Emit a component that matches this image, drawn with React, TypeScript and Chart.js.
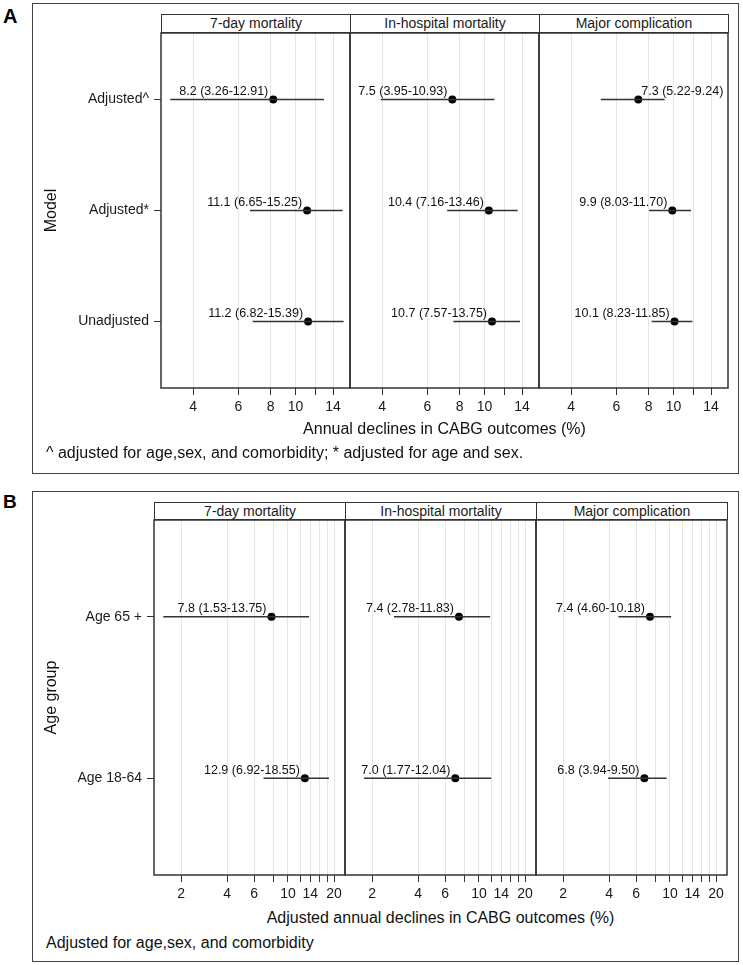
import React, { useEffect, useRef } from 'react';
import { Chart, registerables } from 'chart.js';

Chart.register(...registerables);

const FONT = "'Liberation Sans', Arial, Helvetica, sans-serif";

// ---------- shared ----------
const facetTitles = ['7-day mortality', 'In-hospital mortality', 'Major complication'];

// ---------- Panel A : model ----------
const modelCategories = ['Adjusted^', 'Adjusted*', 'Unadjusted'];
const aSevenDayEst = [8.2, 11.1, 11.2];
const aSevenDayLow = [3.26, 6.65, 6.82];
const aSevenDayHigh = [12.91, 15.25, 15.39];
const aInHospEst = [7.5, 10.4, 10.7];
const aInHospLow = [3.95, 7.16, 7.57];
const aInHospHigh = [10.93, 13.46, 13.75];
const aMajorEst = [7.3, 9.9, 10.1];
const aMajorLow = [5.22, 8.03, 8.23];
const aMajorHigh = [9.24, 11.70, 11.85];
const aTickValues = [4, 6, 8, 10, 12, 14];
const aTickLabels = ['4', '6', '8', '10', '', '14'];
const aAxisRange = [3.0, 16.3];
const aAxisTitle = 'Annual declines in CABG outcomes (%)';
const aFootnote = '^ adjusted for age,sex, and comorbidity; * adjusted for age and sex.';

// ---------- Panel B : age group ----------
const ageCategories = ['Age 65 +', 'Age 18-64'];
const bSevenDayEst = [7.8, 12.9];
const bSevenDayLow = [1.53, 6.92];
const bSevenDayHigh = [13.75, 18.55];
const bInHospEst = [7.4, 7.0];
const bInHospLow = [2.78, 1.77];
const bInHospHigh = [11.83, 12.04];
const bMajorEst = [7.4, 6.8];
const bMajorLow = [4.60, 3.94];
const bMajorHigh = [10.18, 9.50];
const bTickValues = [2, 4, 6, 8, 10, 12, 14, 16, 18, 20];
const bTickLabels = ['2', '4', '6', '', '10', '', '14', '', '', '20'];
const bAxisRange = [1.33, 23.6];
const bAxisTitle = 'Adjusted annual declines in CABG outcomes (%)';
const bFootnote = 'Adjusted for age,sex, and comorbidity';

type Side = 'before' | 'after';

type FacetProps = {
  categories: string[];
  est: number[];
  low: number[];
  high: number[];
  labelSide: Side[];
  range: number[];
  tickValues: number[];
  tickLabels: string[];
  showY: boolean;
  yTitle: string;
  left: number;
  top: number;
  width: number;
  height: number;
  padLeft: number;
  yAxisWidth: number;
};

const fmt = (e: number, l: number, h: number) => `${e.toFixed(1)} (${l.toFixed(2)}-${h.toFixed(2)})`;

function Facet(p: FacetProps) {
  const ref = useRef<HTMLCanvasElement | null>(null);
  useEffect(() => {
    if (!ref.current) return;
    const n = p.categories.length;
    const yOf = (i: number) => n - i;
    const datasets: any[] = [];
    p.categories.forEach((_, i) => {
      datasets.push({
        data: [
          { x: p.low[i], y: yOf(i) },
          { x: p.high[i], y: yOf(i) },
        ],
        showLine: true,
        borderColor: '#333333',
        borderWidth: 1.5,
        pointRadius: 0,
        pointHoverRadius: 0,
      });
    });
    datasets.push({
      data: p.est.map((v, i) => ({ x: v, y: yOf(i) })),
      showLine: false,
      pointRadius: 4,
      pointHoverRadius: 4,
      backgroundColor: '#000000',
      borderColor: '#000000',
      borderWidth: 0,
    });

    const panelBorder = {
      id: 'panelBorder',
      afterDatasetsDraw(chart: any) {
        const { ctx, chartArea: a } = chart;
        ctx.save();
        ctx.strokeStyle = '#333333';
        ctx.lineWidth = 1.5;
        ctx.strokeRect(a.left, a.top, a.right - a.left, a.bottom - a.top);
        ctx.restore();
      },
    };
    const estLabels = {
      id: 'estLabels',
      afterDatasetsDraw(chart: any) {
        const { ctx } = chart;
        const xs = chart.scales.x;
        const ys = chart.scales.y;
        ctx.save();
        ctx.font = `12.5px ${FONT}`;
        ctx.fillStyle = '#111111';
        ctx.textBaseline = 'alphabetic';
        p.est.forEach((e, i) => {
          const px = xs.getPixelForValue(e);
          const py = ys.getPixelForValue(yOf(i));
          const txt = fmt(e, p.low[i], p.high[i]);
          if (p.labelSide[i] === 'after') {
            ctx.textAlign = 'left';
            ctx.fillText(txt, px + 3, py - 4.5);
          } else {
            ctx.textAlign = 'right';
            ctx.fillText(txt, px - 5, py - 4.5);
          }
        });
        ctx.restore();
      },
    };

    const chart = new Chart(ref.current, {
      type: 'scatter',
      data: { datasets },
      options: {
        animation: false,
        responsive: false,
        events: [],
        layout: { padding: { left: p.padLeft, top: 4, right: 4, bottom: 0 } },
        plugins: { legend: { display: false }, tooltip: { enabled: false } },
        scales: {
          x: {
            type: 'logarithmic',
            min: p.range[0],
            max: p.range[1],
            afterBuildTicks: (s: any) => {
              s.ticks = p.tickValues.map((v) => ({ value: v }));
            },
            afterFit: (s: any) => {
              s.height = 32;
              s.paddingLeft = 0;
              s.paddingRight = 0;
            },
            ticks: {
              autoSkip: false,
              maxRotation: 0,
              minRotation: 0,
              padding: 4,
              font: { family: FONT, size: 14 },
              color: '#1a1a1a',
              callback: (_v: any, idx: number) => p.tickLabels[idx] ?? '',
            },
            grid: { color: '#e6e6e6', lineWidth: 1, tickColor: '#333333', tickLength: 7, tickWidth: 1 },
            border: { display: false },
          },
          y: {
            type: 'linear',
            min: 0.4,
            max: n + 0.6,
            display: p.showY,
            afterBuildTicks: (s: any) => {
              s.ticks = p.categories.map((_, i) => ({ value: yOf(i) }));
            },
            afterFit: (s: any) => {
              s.width = p.showY ? p.yAxisWidth : 0;
              s.paddingTop = 0;
              s.paddingBottom = 0;
            },
            ticks: {
              padding: 5,
              font: { family: FONT, size: 14 },
              color: '#1a1a1a',
              callback: (v: any) => p.categories[n - Number(v)] ?? '',
            },
            grid: { drawOnChartArea: false, tickColor: '#333333', tickLength: 7, tickWidth: 1 },
            border: { display: false },
            title: {
              display: true,
              text: p.yTitle,
              font: { family: FONT, size: 16 },
              color: '#111111',
              padding: { top: 6, bottom: 0 },
            },
          },
        },
      } as any,
      plugins: [panelBorder, estLabels],
    });
    return () => chart.destroy();
  }, []);
  return (
    <canvas
      ref={ref}
      width={p.width}
      height={p.height}
      style={{ position: 'absolute', left: p.left, top: p.top, width: p.width, height: p.height }}
    />
  );
}

type PanelProps = {
  letter: string;
  letterSize: number;
  letterTop: number;
  frameTop: number;
  frameBottom: number;
  stripTop: number;
  plotTop: number;
  plotBottom: number;
  facetLeft: number;
  facetW: number;
  categories: string[];
  yTitle: string;
  facets: { est: number[]; low: number[]; high: number[]; side: Side[] }[];
  range: number[];
  tickValues: number[];
  tickLabels: string[];
  axisTitle: string;
  axisTitleTop: number;
  footnote: string;
  footTop: number;
};

function Panel(p: PanelProps) {
  const canvasLeft0 = 36;
  const plotH = p.plotBottom - p.plotTop;
  return (
    <>
      <div
        style={{
          position: 'absolute',
          left: 32,
          top: p.frameTop,
          width: 739 - 32,
          height: p.frameBottom - p.frameTop,
          boxSizing: 'border-box',
          border: '1.5px solid #444',
        }}
      />
      <div
        style={{
          position: 'absolute',
          left: 3,
          top: p.letterTop,
          fontFamily: FONT,
          fontWeight: 'bold',
          fontSize: p.letterSize,
          lineHeight: `${p.letterSize}px`,
          color: '#000',
        }}
      >
        {p.letter}
      </div>
      {facetTitles.map((t, i) => (
        <div
          key={t}
          style={{
            position: 'absolute',
            left: p.facetLeft + i * p.facetW,
            top: p.stripTop,
            width: p.facetW + 1,
            height: p.plotTop - p.stripTop,
            boxSizing: 'border-box',
            border: '1px solid #333',
            fontFamily: FONT,
            fontSize: 14,
            lineHeight: `${p.plotTop - p.stripTop - 2}px`,
            textAlign: 'center',
            color: '#1a1a1a',
            background: '#fff',
          }}
        >
          {t}
        </div>
      ))}
      {p.facets.map((f, i) => {
        const fl = p.facetLeft + i * p.facetW;
        const first = i === 0;
        const left = first ? canvasLeft0 : fl - 4;
        const width = first ? fl - canvasLeft0 + p.facetW + 4 : p.facetW + 8;
        return (
          <Facet
            key={i}
            categories={p.categories}
            est={f.est}
            low={f.low}
            high={f.high}
            labelSide={f.side}
            range={p.range}
            tickValues={p.tickValues}
            tickLabels={p.tickLabels}
            showY={first}
            yTitle={p.yTitle}
            left={left}
            top={p.plotTop - 4}
            width={width}
            height={plotH + 4 + 32}
            padLeft={first ? 0 : 4}
            yAxisWidth={first ? fl - canvasLeft0 : 0}
          />
        );
      })}
      <div
        style={{
          position: 'absolute',
          left: p.facetLeft,
          width: p.facetW * 3,
          top: p.axisTitleTop,
          textAlign: 'center',
          fontFamily: FONT,
          fontSize: 16,
          lineHeight: '20px',
          color: '#111',
          whiteSpace: 'nowrap',
        }}
      >
        {p.axisTitle}
      </div>
      <div
        style={{
          position: 'absolute',
          left: 46,
          top: p.footTop,
          fontFamily: FONT,
          fontSize: 16,
          lineHeight: '20px',
          color: '#111',
          whiteSpace: 'nowrap',
        }}
      >
        {p.footnote}
      </div>
    </>
  );
}

export default function App() {
  return (
    <div
      style={{
        position: 'absolute',
        left: 0,
        top: 0,
        width: 743,
        height: 965,
        background: '#fff',
        overflow: 'hidden',
      }}
    >
      <Panel
        letter="A"
        letterSize={20}
        letterTop={6}
        frameTop={3}
        frameBottom={474}
        stripTop={14}
        plotTop={33}
        plotBottom={388}
        facetLeft={161}
        facetW={189}
        categories={modelCategories}
        yTitle="Model"
        facets={[
          { est: aSevenDayEst, low: aSevenDayLow, high: aSevenDayHigh, side: ['before', 'before', 'before'] },
          { est: aInHospEst, low: aInHospLow, high: aInHospHigh, side: ['before', 'before', 'before'] },
          { est: aMajorEst, low: aMajorLow, high: aMajorHigh, side: ['after', 'before', 'before'] },
        ]}
        range={aAxisRange}
        tickValues={aTickValues}
        tickLabels={aTickLabels}
        axisTitle={aAxisTitle}
        axisTitleTop={419}
        footnote={aFootnote}
        footTop={443}
      />
      <Panel
        letter="B"
        letterSize={19}
        letterTop={492}
        frameTop={491}
        frameBottom={962}
        stripTop={502}
        plotTop={520}
        plotBottom={875}
        facetLeft={154}
        facetW={191}
        categories={ageCategories}
        yTitle="Age group"
        facets={[
          { est: bSevenDayEst, low: bSevenDayLow, high: bSevenDayHigh, side: ['before', 'before'] },
          { est: bInHospEst, low: bInHospLow, high: bInHospHigh, side: ['before', 'before'] },
          { est: bMajorEst, low: bMajorLow, high: bMajorHigh, side: ['before', 'before'] },
        ]}
        range={bAxisRange}
        tickValues={bTickValues}
        tickLabels={bTickLabels}
        axisTitle={bAxisTitle}
        axisTitleTop={908}
        footnote={bFootnote}
        footTop={933}
      />
    </div>
  );
}
